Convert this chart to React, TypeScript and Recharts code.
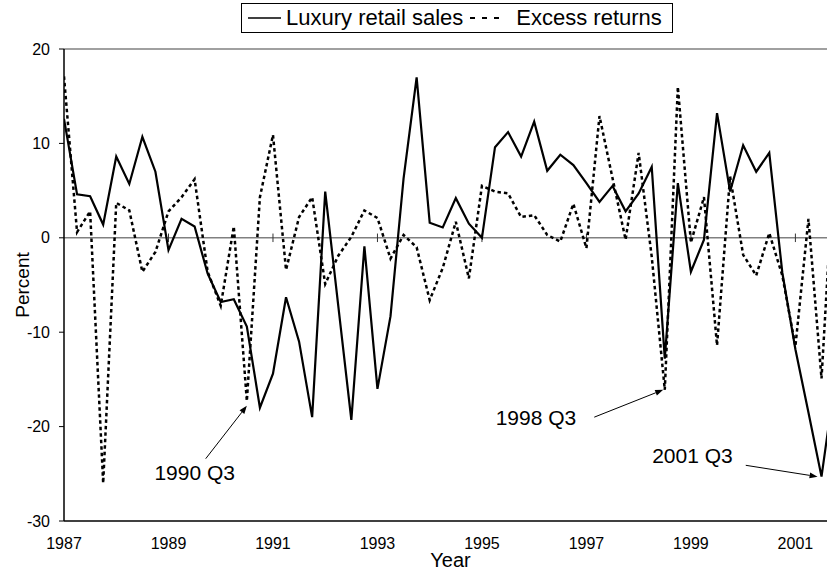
import { Legend, Line, LineChart, ReferenceLine, XAxis, YAxis } from "recharts";

const FONT = '"Liberation Sans", Arial, Helvetica, sans-serif';

// quarterly, 1987 Q1 .. 2001 Q4
const years = [1987, 1988, 1989, 1990, 1991, 1992, 1993, 1994, 1995, 1996, 1997, 1998, 1999, 2000, 2001];
const quarterNames = ["Q1", "Q2", "Q3", "Q4"];

const luxuryRetailSales = [
  12.6, 4.6, 4.4, 1.4, 8.6, 5.7, 10.7, 7.0,
  -1.3, 2.0, 1.2, -3.8, -6.8, -6.5, -9.4, -18.0,
  -14.4, -6.3, -11.0, -19.0, 4.9, -7.2, -19.3, -0.9,
  -16.0, -8.3, 6.3, 17.0, 1.6, 1.1, 4.2, 1.5,
  0.0, 9.6, 11.2, 8.6, 12.3, 7.1, 8.8, 7.7,
  5.8, 3.8, 5.5, 2.8, 4.7, 7.5, -12.8, 5.8,
  -3.6, -0.2, 13.2, 4.9, 9.8, 7.0, 9.0, -3.7,
  -11.8, -18.5, -25.3, -15.4,
];

const excessReturns = [
  17.1, 0.6, 2.8, -26.0, 3.7, 2.9, -3.6, -1.5,
  2.8, 4.3, 6.2, -3.6, -7.2, 1.2, -17.3, 4.3,
  10.9, -3.4, 2.2, 4.3, -4.9, -1.9, 0.1, 2.9,
  2.1, -2.2, 0.3, -1.0, -6.6, -3.2, 1.7, -4.3,
  5.5, 4.9, 4.7, 2.2, 2.4, 0.3, -0.4, 3.6,
  -1.1, 12.9, 6.3, -0.2, 9.0, -2.0, -16.1, 16.0,
  -0.5, 4.3, -11.4, 6.5, -1.8, -4.0, 0.5, -4.0,
  -11.5, 2.0, -14.9, 9.0,
];

const seriesOrder = ["Luxury retail sales", "Excess returns"];
const yearTicks = ["1987", "1989", "1991", "1993", "1995", "1997", "1999", "2001"];
const percentTicks = [-30, -20, -10, 0, 10, 20];

const quarterLabels = years.flatMap((y) => quarterNames.map((q) => `${y} ${q}`));

const data = quarterLabels.map((label, i) => ({
  t: i,
  label,
  luxury: luxuryRetailSales[i],
  excess: excessReturns[i],
}));

const tickIdx = yearTicks.map((y) => quarterLabels.indexOf(`${y} Q1`));

// callouts: text + arrow pointing at a quarter
const callouts = [
  { text: "1990 Q3", from: [10.85, -23.4], to: "1990 Q3", series: "excess", tipDx: 0, tipDy: -0.5, dx: -11, dy: 21, anchor: "middle" },
  { text: "1998 Q3", from: [40.6, -19.0], to: "1998 Q3", series: "excess", tipDx: -0.12, tipDy: 0, dx: -18, dy: 8, anchor: "end" },
  { text: "2001 Q3", from: [52.2, -24.1], to: "2001 Q3", series: "luxury", tipDx: -0.3, tipDy: 0, dx: -13, dy: -2, anchor: "end" },
];

function arrowShape(text: string, dx: number, dy: number, anchor: string) {
  return (props: any) => {
    const { x1, y1, x2, y2 } = props;
    const a = Math.atan2(y2 - y1, x2 - x1);
    const len = 8;
    const w = 3;
    const bx = x2 - len * Math.cos(a);
    const by = y2 - len * Math.sin(a);
    const px = -Math.sin(a) * w;
    const py = Math.cos(a) * w;
    return (
      <g>
        <line x1={x1} y1={y1} x2={bx} y2={by} stroke="#000" strokeWidth={1} />
        <polygon points={`${x2},${y2} ${bx + px},${by + py} ${bx - px},${by - py}`} fill="#000" />
        <text x={x1 + dx} y={y1 + dy} textAnchor={anchor as any} fontSize={21} fontFamily={FONT} fill="#000">
          {text}
        </text>
      </g>
    );
  };
}

function LegendBox({ payload }: any) {
  const items = [...(payload || [])].sort(
    (a: any, b: any) => seriesOrder.indexOf(a.value) - seriesOrder.indexOf(b.value)
  );
  return (
    <div
      style={{
        border: "1px solid #000",
        height: 30,
        boxSizing: "border-box",
        display: "flex",
        alignItems: "center",
        padding: "0 0 0 6px",
        fontFamily: FONT,
        fontSize: 22,
        background: "#fff",
        whiteSpace: "nowrap",
      }}
    >
      {items.map((item: any, k: number) => {
        const dashed = !!item.payload.strokeDasharray;
        return (
          <span key={item.value} style={{ display: "flex", alignItems: "center", marginRight: k === 0 ? 7 : 0 }}>
            <svg width={dashed ? 35 : 33} height={6} style={{ marginRight: dashed ? 11 : 5 }}>
              <line
                x1={0}
                y1={3}
                x2={dashed ? 35 : 33}
                y2={3}
                stroke="#000"
                strokeWidth={dashed ? 2 : 1.5}
                strokeDasharray={dashed ? "5 7" : undefined}
              />
            </svg>
            {item.value}
          </span>
        );
      })}
    </div>
  );
}

export default function App() {
  const tick = { fill: "#000", fontSize: 16, fontFamily: FONT };
  return (
    <div style={{ position: "absolute", left: 0, top: 0, fontFamily: FONT, background: "#fff", width: 827 }}>
      <LineChart width={827} height={574} data={data} margin={{ top: 49, right: 0, bottom: 0, left: 0 }}>
        <XAxis
          dataKey="t"
          type="number"
          domain={[0, 58.42]}
          allowDataOverflow
          ticks={tickIdx}
          tickFormatter={(v: number) => quarterLabels[v]?.slice(0, 4) ?? ""}
          interval={0}
          tick={tick}
          tickLine={false}
          tickSize={0}
          tickMargin={17}
          axisLine={{ stroke: "#000", strokeWidth: 1.5 }}
          height={53}
          label={{ value: "Year", position: "insideBottom", offset: 7, dx: 5, fontSize: 20, fill: "#000", fontFamily: FONT }}
        />
        <YAxis
          type="number"
          domain={[-30, 20]}
          ticks={percentTicks}
          interval={0}
          width={64}
          tick={tick}
          tickSize={5}
          tickMargin={9}
          tickLine={{ stroke: "#000" }}
          axisLine={{ stroke: "#000", strokeWidth: 1.5 }}
          label={{
            value: "Percent",
            angle: -90,
            position: "insideLeft",
            offset: 22,
            style: { textAnchor: "middle" },
            fontSize: 19,
            fill: "#000",
            fontFamily: FONT,
          }}
        />
        <ReferenceLine y={20} stroke="#808080" strokeWidth={1.5} />
        <ReferenceLine y={0} stroke="#808080" strokeWidth={1.5} />
        {tickIdx.slice(1).map((t) => (
          <ReferenceLine
            key={t}
            segment={[
              { x: t, y: 0.45 },
              { x: t, y: -0.45 },
            ]}
            stroke="#333"
            strokeWidth={1}
          />
        ))}
        <Legend
          verticalAlign="middle"
          align="center"
          layout="horizontal"
          content={<LegendBox />}
          wrapperStyle={{ top: 3, left: 241, width: 432 }}
        />
        <Line
          type="linear"
          dataKey="luxury"
          name="Luxury retail sales"
          stroke="#000"
          strokeWidth={2.2}
          dot={false}
          isAnimationActive={false}
        />
        <Line
          type="linear"
          dataKey="excess"
          name="Excess returns"
          stroke="#000"
          strokeWidth={2.5}
          strokeDasharray="3.5 3"
          dot={false}
          isAnimationActive={false}
        />
        {callouts.map((c) => {
          const i = quarterLabels.indexOf(c.to);
          const v = c.series === "luxury" ? luxuryRetailSales[i] : excessReturns[i];
          return (
            <ReferenceLine
              key={c.text}
              segment={[
                { x: c.from[0], y: c.from[1] },
                { x: i + c.tipDx, y: v + c.tipDy },
              ]}
              ifOverflow="visible"
              shape={arrowShape(c.text, c.dx, c.dy, c.anchor)}
            />
          );
        })}
      </LineChart>
    </div>
  );
}
